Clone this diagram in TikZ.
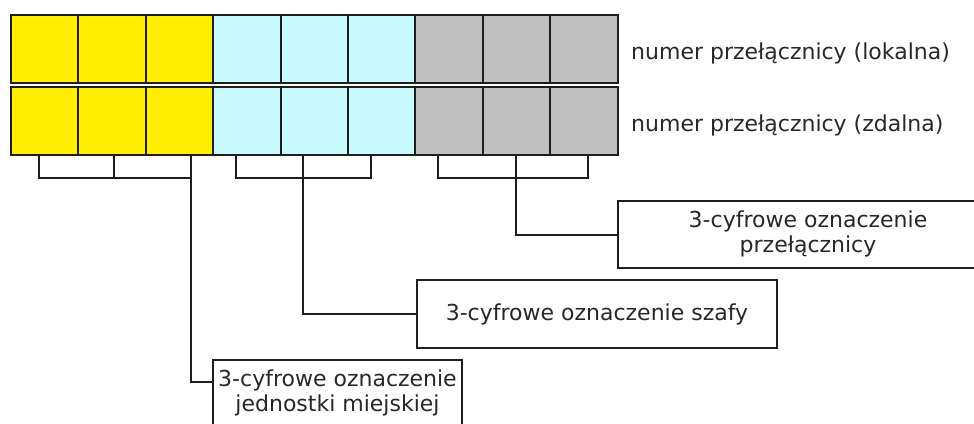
\documentclass[tikz,border=0pt]{standalone}
\usepackage{fontspec}
\setmainfont{DejaVu Sans}
\definecolor{cyel}{RGB}{255,238,0}
\definecolor{ccyan}{RGB}{200,250,255}
\definecolor{cgray}{RGB}{192,192,192}
\definecolor{cline}{RGB}{30,30,30}
\definecolor{ctext}{RGB}{40,40,40}
\begin{document}
\begin{tikzpicture}[x=1pt,y=-1pt,
  cell/.style={draw=cline, line width=2pt, minimum width=67.4pt, minimum height=68pt, inner sep=0pt, outer sep=0pt},
  conn/.style={draw=cline, line width=2pt},
  lbl/.style={text=ctext, font=\fontsize{22}{25}\selectfont, inner sep=0pt},
  infobox/.style={draw=cline, line width=2pt, fill=white, anchor=north west, inner sep=0pt, outer sep=0pt, align=center, text=ctext, font=\fontsize{22}{25}\selectfont}]
\useasboundingbox (0,0) rectangle (974,423);
\clip (0,0) rectangle (974,423);
\fill[white] (0,0) rectangle (974,423);
% cells
\foreach \r/\yc in {1/49,2/121}{
  \foreach \c in {1,...,9}{
    \pgfmathtruncatemacro{\g}{int((\c-1)/3)}
    \ifcase\g \def\fc{cyel}\or \def\fc{ccyan}\else \def\fc{cgray}\fi
    \node[cell, fill=\fc] (r\r c\c) at ({11+67.4*(\c-0.5)},\yc) {};
  }
}
\node[lbl, anchor=base west] (lok) at (631,59) {numer przełącznicy (lokalna)};
\node[lbl, anchor=base west] (zdal) at (631,131) {numer przełącznicy (zdalna)};
% info boxes
\node[infobox, minimum width=380pt, minimum height=67pt] (box1) at (618,201) {\raisebox{-4pt}{\begin{tabular}{@{}c@{}}3-cyfrowe oznaczenie\\przełącznicy\end{tabular}}};
\node[infobox, minimum width=360pt, minimum height=68pt] (box2) at (417,280) {3-cyfrowe oznaczenie szafy};
\node[infobox, minimum width=249pt, minimum height=66pt] (box3) at (213,360) {3-cyfrowe oznaczenie\\jednostki miejskiej};
% bracket tick coordinates
\coordinate (ya) at (39,155);  \coordinate (yb) at (114,155); \coordinate (yc) at (191,155);
\coordinate (ca) at (236,155); \coordinate (cb) at (303,155); \coordinate (cc) at (371,155);
\coordinate (ga) at (438,155); \coordinate (gb) at (516,155); \coordinate (gc) at (588,155);
% brackets
\draw[conn] (ya) -- ++(0,23) -| (yc);
\draw[conn] (yb) -- ++(0,23);
\draw[conn] (ca) -- ++(0,23) -| (cc);
\draw[conn] (cb) -- ++(0,23);
\draw[conn] (ga) -- ++(0,23) -| (gc);
\draw[conn] (gb) -- ++(0,23);
% leaders
\draw[conn] (yc) |- ([yshift=11pt]box3.west);
\draw[conn] (cb) |- (box2.west);
\draw[conn] (gb) |- (box1.west);
\end{tikzpicture}
\end{document}
